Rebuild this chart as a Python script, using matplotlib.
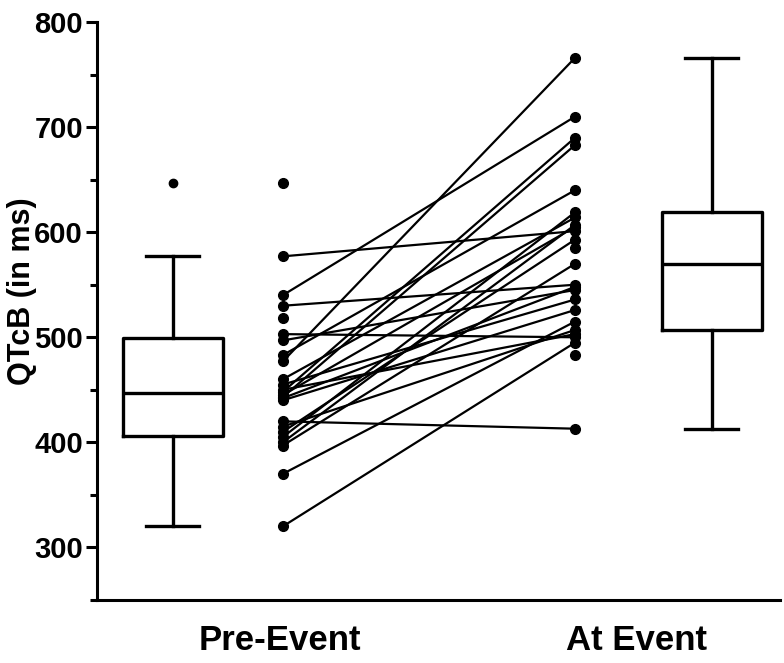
import numpy as np
import matplotlib
matplotlib.use("Agg")
import matplotlib.pyplot as plt
from matplotlib.ticker import MultipleLocator

plt.rcParams['font.family'] = ['Liberation Sans', 'DejaVu Sans']

# paired QTcB values (ms), nan = no partner
pre_event = [577, 540, 530, 503, 497, 483, 477, 460, 455, 448, 443, 440,
             420, 415, 410, 405, 400, 397, 370, 320, 445, 442, 450,
             647, 518, np.nan, np.nan]
at_event = [601, 710, 550, 500, 545, 640, 766, 614, 536, 690, 683, 526,
            413, 507, 593, 619, 607, 570, 515, 495, 605, 548, 503,
            np.nan, np.nan, 585, 483]

# box summaries
box_pre = dict(whislo=320, q1=406, med=447, q3=499, whishi=577, fliers=[647])
box_at = dict(whislo=413, q1=507, med=570, q3=619, whishi=766, fliers=[])

group_labels = ["Pre-Event", "At Event"]

# x positions of the four columns
X_BOX_PRE, X_PRE, X_AT, X_BOX_AT = 1.11, 2.72, 7.0, 9.0

fig = plt.figure(figsize=(7.84, 6.63), dpi=100)
ax = fig.add_axes([97 / 784, 1 - 600 / 663, 683 / 784, 578 / 663])

pre = np.array(pre_event, dtype=float)
at = np.array(at_event, dtype=float)

# connecting lines
for a, b in zip(pre, at):
    if not np.isnan(a) and not np.isnan(b):
        ax.plot([X_PRE, X_AT], [a, b], color='black', lw=1.6, zorder=2)

ax.plot(np.full(len(pre), X_PRE), pre, 'o', color='black', ms=7, zorder=3)
ax.plot(np.full(len(at), X_AT), at, 'o', color='black', ms=7, zorder=3)

lw = 2.4
ax.bxp([box_pre, box_at], positions=[X_BOX_PRE, X_BOX_AT], widths=1.46,
       capwidths=0.78, showfliers=True,
       boxprops=dict(color='black', lw=lw),
       whiskerprops=dict(color='black', lw=lw),
       capprops=dict(color='black', lw=lw),
       medianprops=dict(color='black', lw=lw),
       flierprops=dict(marker='o', markerfacecolor='black',
                       markeredgecolor='black', markersize=6))

ax.set_xlim(0, 10)
ax.set_ylim(250, 800)
ax.yaxis.set_minor_locator(MultipleLocator(50))
ax.set_yticks([300, 400, 500, 600, 700, 800])
ax.tick_params(axis='y', which='major', length=8, width=2.2, labelsize=21, pad=2)
ax.tick_params(axis='y', which='minor', length=5, width=2.2)
for lab in ax.get_yticklabels():
    lab.set_fontweight('bold')
ax.set_xticks([])

for side in ['top', 'right']:
    ax.spines[side].set_visible(False)
for side in ['left', 'bottom']:
    ax.spines[side].set_linewidth(2.2)

ax.set_ylabel("QTcB (in ms)", fontsize=22, fontweight='bold')
ax.yaxis.set_label_coords(-0.088, 0.535)

# group labels under the axis
fig.text(280 / 784, 1 - 640 / 663, group_labels[0], ha='center', va='center',
         fontsize=25, fontweight='bold')
fig.text(636 / 784, 1 - 640 / 663, group_labels[1], ha='center', va='center',
         fontsize=25, fontweight='bold')

fig.savefig("out.png", dpi=100)
